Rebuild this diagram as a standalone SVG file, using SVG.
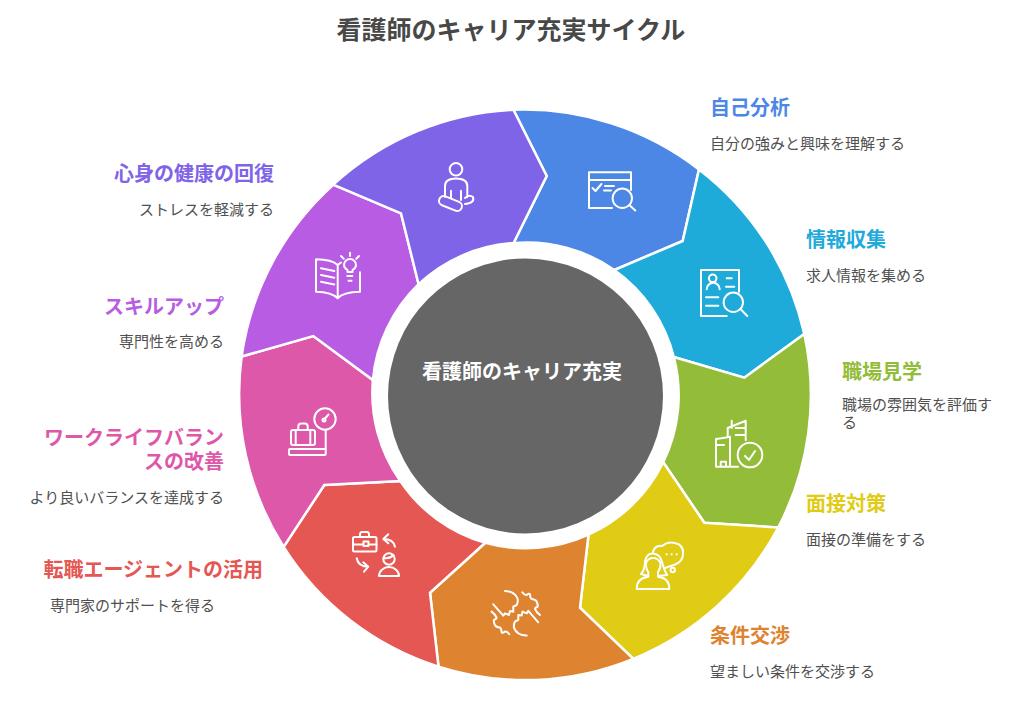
<svg xmlns="http://www.w3.org/2000/svg" width="1020" height="720" viewBox="0 0 1020 720">
<style>
text{font-family:"Noto Sans CJK JP","Noto Sans",sans-serif}
.t{font-size:25px;font-weight:700;fill:#484848;text-anchor:middle}
.c{font-size:20px;font-weight:700;fill:#fff;text-anchor:middle}
.h{font-size:20px;font-weight:700}
.d{font-size:15px;fill:#505050}
.e{text-anchor:end}
.s{stroke:#fff;stroke-width:2.500;stroke-linejoin:miter}
.i{fill:none;stroke:#fff;stroke-width:2;stroke-linecap:round;stroke-linejoin:round}
</style>
<rect width="1020" height="720" fill="#fff"/>
<text class="t" x="511" y="39">看護師のキャリア充実サイクル</text>
<g id="connectors"/>
<g id="node-self">
<path class="s" fill="#4c87e5" d="M513.400,109.800A285.500,285.500 0 0 1 699,169.400L682.700,241L614.300,270A152.500,152.500 0 0 0 513.600,243L546.700,176Z"/>
<g class="i"><path d="M612,208H589V172.300H631V190M589,180H631M592.500,188l3,3l6,-7M605,186h9M604,190.500h7"/><circle cx="622.300" cy="198.300" r="9.700"/><path d="M629.300,205l6,5.500"/></g>
<text class="h" x="710" y="115" fill="#4c87e5">自己分析</text>
<text class="d" x="710" y="149">自分の強みと興味を理解する</text>
</g>
<g id="node-info">
<path class="s" fill="#1fabda" d="M699,169.400A285.500,285.500 0 0 1 804.300,334L744.300,377.700L673.800,357A152.500,152.500 0 0 0 614.300,270L682.700,241Z"/>
<g class="i"><path d="M726.700,316H701V270H739V291.700M726.700,278.300h5M726,286.700h8.300M706,297.300h12.300M706,305.700h12.300M706.700,289.300a6.500,6.500 0 0 1 13,0"/><circle cx="712.700" cy="278.300" r="3.800"/><circle cx="733.300" cy="302.300" r="9.700"/><path d="M740.500,309l6.800,7"/></g>
<text class="h" x="806" y="247" fill="#1fabda">情報収集</text>
<text class="d" x="806" y="281">求人情報を集める</text>
</g>
<g id="node-visit">
<path class="s" fill="#93bc39" d="M804.300,334A285.500,285.500 0 0 1 778.200,527.500L704.300,522.700L663.200,462.200A152.500,152.500 0 0 0 673.800,357L744.300,377.700Z"/>
<g class="i"><path d="M738,466.700H716V439Q723,438 730,436.700V466.700M716,445H724M720.700,466.700V461.700H726V466.700M727.700,436V428L745.700,420.700V440M731.700,420.700V428M735.700,428H745.700M735.700,435H745.700M745,456l4,4l6,-9"/><circle cx="750" cy="455" r="12.300"/></g>
<text class="h" x="842" y="379" fill="#93bc39">職場見学</text>
<text class="d" x="842" y="410">職場の雰囲気を評価す</text>
<text class="d" x="842" y="428">る</text>
</g>
<g id="node-interview">
<path class="s" fill="#e0cb15" d="M778.200,527.500A285.500,285.500 0 0 1 633.300,658.900L580,607.700L588.500,534.600A152.500,152.500 0 0 0 663.200,462.200L704.300,522.700Z"/>
<g class="i"><path d="M636.700,589H669.300Q669.500,578 658,576.700V572Q661,568 660.500,563Q658,558 653,558Q648,558 646,563Q646,570 648.300,572V576.700Q636.700,578 636.700,589Z"/><path d="M641,574Q645,570 645,561Q647,553 653,553.500Q660,554 662,562Q664,570 667,575L658,576M641,574L648,576"/><path d="M653,552Q655,545 662,546Q668,541 675,543Q684,545 683,554Q683,562 674,565Q670,566 665,568"/><circle cx="672.700" cy="570" r="2.200"/></g>
<g fill="#fff"><circle cx="666.700" cy="554.300" r="1.100"/><circle cx="671.700" cy="554.300" r="1.100"/><circle cx="676.700" cy="554.300" r="1.100"/><circle cx="667.300" cy="574.800" r="1"/></g>
<text class="h" x="806" y="511" fill="#e0cb15">面接対策</text>
<text class="d" x="806" y="545">面接の準備をする</text>
</g>
<g id="node-negotiate">
<path class="s" fill="#de8330" d="M633.300,658.900A285.500,285.500 0 0 1 438.500,666.600L430,592.700L485.300,542.800A152.500,152.500 0 0 0 588.500,534.600L580,607.700Z"/>
<g class="i"><g id="hand"><path d="M505,591Q515,591.500 517.700,599Q518,603 516.700,605L513.300,606.700V611.700L510,611L509,615L505,613.300L503.300,615.700L493.300,604.300"/><path d="M522.300,592.300Q524.500,595.500 526.700,595Q529,593 530,594.300Q530,598 531.700,599Q536,599.500 536.700,601.700Q538,604 537.700,606.700Q535,607.500 535,609Q536,612 540,615"/></g><use href="#hand" transform="rotate(180 515.800 613.300)"/></g>
<text class="h" x="710" y="643" fill="#de8330">条件交渉</text>
<text class="d" x="710" y="677">望ましい条件を交渉する</text>
</g>
<g id="node-agent">
<path class="s" fill="#e55753" d="M438.500,666.600A285.500,285.500 0 0 1 283.600,546.900L324.300,485L400.300,481A152.500,152.500 0 0 0 485.300,542.800L430,592.700Z"/>
<g class="i"><rect x="353" y="537" width="23.500" height="14.500" rx="1.500"/><path d="M353,544.500H363.500M368.500,544.500H376.500M360,537V534.500Q360,532 362,532H367Q369,532 369,534.500V537"/><rect x="363.500" y="541.500" width="5" height="4.500"/><path d="M395,546.700Q393.300,539 383.300,539M388.300,534.300L383.300,539L388.300,543.300M356.700,558.300Q358.300,566.700 368.300,566.700M363.300,562.300L368.300,566.700L364,571.700"/><circle cx="389" cy="559" r="5.700"/><path d="M383.500,558Q390,559 393.500,555M379,576a10,9 0 0 1 20,0Z"/></g>
<text class="h e" x="263" y="577" fill="#e55753">転職エージェントの活用</text>
<text class="d e" x="215" y="611">専門家のサポートを得る</text>
</g>
<g id="node-balance">
<path class="s" fill="#dd58a9" d="M283.600,546.900A285.500,285.500 0 0 1 241.600,356.500L313.300,336L372.900,380.100A152.500,152.500 0 0 0 400.300,481L324.300,485Z"/>
<g class="i"><circle cx="325" cy="419" r="10.700"/><circle cx="324" cy="420" r="1.500"/><path d="M325,418.500L328.500,414.500M325.700,429.700V449"/><rect x="289" y="449" width="36.700" height="6" rx="1"/><rect x="291" y="430" width="24" height="15" rx="2"/><path d="M295.700,430V445M310.300,430V445M298.300,430V426.500Q298.300,423.500 301.300,423.500H304.700Q307.700,423.500 307.700,426.500V430"/></g>
<text class="h e" x="224" y="445" fill="#dd58a9">ワークライフバラン</text>
<text class="h e" x="224" y="469" fill="#dd58a9">スの改善</text>
<text class="d e" x="224" y="503">より良いバランスを達成する</text>
</g>
<g id="node-skill">
<path class="s" fill="#b75ce3" d="M241.600,356.500A285.500,285.500 0 0 1 333.200,184.700L401,213.300L418.600,284.200A152.500,152.500 0 0 0 372.900,380.100L313.300,336Z"/>
<g class="i"><path d="M337.700,265Q332,259.500 316,259.300V291.700Q332,292 337.700,298.300V265M337.700,298.300Q343,292 360,291.700V272.300M337.700,265L341,262.500M321,268.300l13.300,2.700M321,275l13.300,2.700M321,281.700l13.300,2.700M347.300,276h5M348.500,280.700h3M350,252.700V256M341,256l2.700,2.700M359,256l-2.700,2.700M347.500,272H352.500V270Q356,268 356,265A6,6 0 0 0 344,265Q344,268 347.500,270Z"/></g>
<text class="h e" x="224" y="314" fill="#b75ce3">スキルアップ</text>
<text class="d e" x="224" y="347">専門性を高める</text>
</g>
<g id="node-health">
<path class="s" fill="#8064e7" d="M333.200,184.700A285.500,285.500 0 0 1 513.400,109.800L546.700,176L513.600,243A152.500,152.500 0 0 0 418.600,284.200L401,213.300Z"/>
<g class="i"><circle cx="456" cy="169.300" r="6.300"/><path d="M445,197V186Q445,178.500 456,178.500Q467.300,178.500 467.300,186V197M451,190.700V198M461,190.700V200M465,198Q469,194 473,197Q475,203 465,204"/><rect x="438.500" y="198.800" width="24" height="9.500" rx="4.700" transform="rotate(22 450.500 203.500)"/></g>
<text class="h e" x="274" y="181" fill="#8064e7">心身の健康の回復</text>
<text class="d e" x="274" y="215">ストレスを軽減する</text>
</g>
<g id="node-center">
<circle cx="525.500" cy="396" r="137.500" fill="#666"/>
<text class="c" x="522" y="379">看護師のキャリア充実</text>
</g>
</svg>
